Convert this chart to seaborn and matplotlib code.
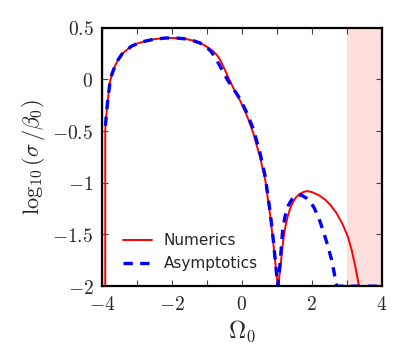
"""Growth rate: numerics vs asymptotics."""

import matplotlib

matplotlib.use("Agg")

import matplotlib.pyplot as plt
import pandas as pd
import seaborn as sns

# Numerics (red, solid)
numerics_omega = [
    -3.90, -3.90, -3.87, -3.84, -3.80, -3.76, -3.70, -3.62, -3.53, -3.42,
    -3.30, -3.15, -2.95, -2.77, -2.50, -2.20, -2.05, -1.80, -1.60, -1.40,
    -1.19, -1.00, -0.81, -0.70, -0.62, -0.55, -0.48, -0.36, -0.24, -0.05,
    0.14, 0.33, 0.52, 0.67, 0.81, 0.90, 0.98, 1.03, 1.07, 1.11,
    1.15, 1.20, 1.25, 1.31, 1.38, 1.46, 1.55, 1.65, 1.76, 1.86,
    2.00, 2.20, 2.37, 2.52, 2.70, 2.88, 3.03, 3.14, 3.25, 3.35,
    4.00,
]
numerics_log = [
    -2.00, -0.49, -0.35, -0.24, -0.12, -0.02, 0.06, 0.13, 0.19, 0.245,
    0.28, 0.32, 0.35, 0.368, 0.388, 0.398, 0.40, 0.397, 0.39, 0.375,
    0.35, 0.315, 0.27, 0.23, 0.19, 0.14, 0.09, 0.0, -0.085, -0.205,
    -0.345, -0.52, -0.75, -0.97, -1.31, -1.58, -1.84, -2.00, -1.92, -1.80,
    -1.66, -1.52, -1.42, -1.33, -1.25, -1.19, -1.14, -1.11, -1.09, -1.08,
    -1.09, -1.12, -1.16, -1.21, -1.29, -1.40, -1.52, -1.65, -1.82, -2.00,
    -2.00,
]

# Asymptotics (blue, dashed)
asymptotics_omega = [
    -3.895, -3.87, -3.84, -3.80, -3.76, -3.70, -3.62, -3.53, -3.42, -3.30,
    -3.15, -2.95, -2.77, -2.50, -2.20, -2.05, -1.80, -1.60, -1.40, -1.19,
    -1.00, -0.88, -0.76, -0.64, -0.53, -0.40, -0.24, -0.05, 0.14, 0.33,
    0.52, 0.67, 0.81, 0.90, 0.98, 1.03, 1.07, 1.12, 1.17, 1.24,
    1.33, 1.45, 1.58, 1.71, 1.85, 2.05, 2.20, 2.33, 2.45, 2.57,
    2.64, 2.69, 2.72, 4.00,
]
asymptotics_log = [
    -0.45, -0.35, -0.24, -0.12, -0.02, 0.06, 0.13, 0.19, 0.245, 0.28,
    0.32, 0.35, 0.368, 0.388, 0.398, 0.40, 0.397, 0.39, 0.375, 0.35,
    0.31, 0.27, 0.21, 0.14, 0.07, -0.01, -0.09, -0.19, -0.32, -0.48,
    -0.71, -0.94, -1.28, -1.55, -1.83, -2.00, -1.88, -1.67, -1.45, -1.32,
    -1.22, -1.15, -1.12, -1.12, -1.15, -1.23, -1.34, -1.47, -1.60, -1.75,
    -1.87, -1.97, -2.00, -2.00,
]

# shaded bands
band_edges = [(-4.0, -3.93), (3.0, 4.0)]

x_ticks = [-4, -2, 0, 2, 4]
x_tick_labels = [r"$-4$", r"$-2$", r"$0$", r"$2$", r"$4$"]
y_ticks = [-2, -1.5, -1, -0.5, 0, 0.5]
y_tick_labels = [r"$-2$", r"$-1.5$", r"$-1$", r"$-0.5$", r"$0$", r"$0.5$"]

sns.set_theme(style="ticks")
plt.rcParams["mathtext.fontset"] = "cm"
plt.rcParams["font.family"] = ["DejaVu Sans"]

num = pd.DataFrame({"omega": numerics_omega, "logsig": numerics_log})
asy = pd.DataFrame({"omega": asymptotics_omega, "logsig": asymptotics_log})

fig = plt.figure(figsize=(4.07, 3.49), dpi=100)
ax = fig.add_axes([0.25, 0.18, 0.688, 0.741])

for lo, hi in band_edges:
    ax.axvspan(lo, hi, color="#ffdede", lw=0, zorder=0)

sns.lineplot(data=num, x="omega", y="logsig", color="red", lw=1.4,
             sort=False, estimator=None, label="Numerics", ax=ax)
sns.lineplot(data=asy, x="omega", y="logsig", color="blue", lw=2.4,
             sort=False, estimator=None, label="Asymptotics", ax=ax)
ax.lines[-1].set_dashes([2.8, 2.2])

ax.set_xlim(-4, 4)
ax.set_ylim(-2, 0.5)
ax.set_xticks(x_ticks)
ax.set_xticklabels(x_tick_labels)
ax.set_xticks([-3, -1, 1, 3], minor=True)
ax.set_yticks(y_ticks)
ax.set_yticklabels(y_tick_labels)
ax.tick_params(which="both", direction="in", top=True, right=True,
               length=4, width=0.8, labelsize=14, pad=6, color="#444444")
for s in ax.spines.values():
    s.set_linewidth(1.6)
    s.set_color("black")

ax.set_xlabel(r"$\Omega_0$", fontsize=17)
ax.set_ylabel(r"$\log_{10}(\sigma\,/\beta_0)$", fontsize=16)

ax.legend(loc="lower left", frameon=False, fontsize=11, handlelength=1.9,
          borderaxespad=0.6, bbox_to_anchor=(0.02, 0.0))

fig.savefig("out.png", dpi=100)
